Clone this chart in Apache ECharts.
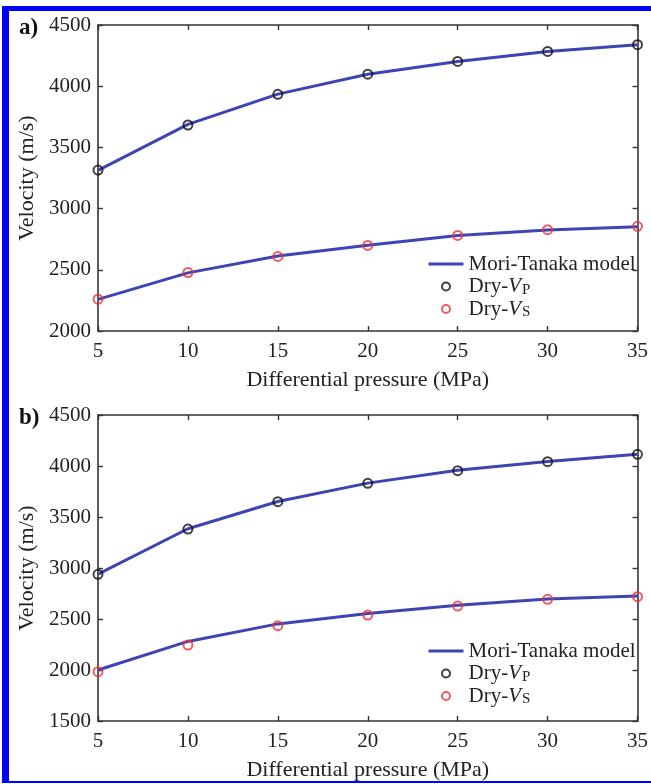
<!DOCTYPE html>
<html>
<head>
<meta charset="utf-8">
<script src="https://cdn.jsdelivr.net/npm/echarts@6/dist/echarts.min.js"></script>
<style>
  html, body { margin: 0; padding: 0; background: #fff; }
  #wrap { position: relative; width: 651px; height: 784px; }
  #main { position: absolute; left: 0; top: 0; width: 651px; height: 784px; }
  .edge { position: absolute; background: #0000ff; }
</style>
</head>
<body>
<div id="wrap">
  <div id="main"></div>
  <div class="edge" style="left:2px;top:6px;width:649px;height:5px"></div>
  <div class="edge" style="left:2px;top:6px;width:7px;height:777px"></div>
  <div class="edge" style="left:2px;top:781px;width:649px;height:2px"></div>
</div>
<script>
  // pressure steps (MPa)
  const pressure = [5, 10, 15, 20, 25, 30, 35];

  // panel a
  const aModelP = [3312, 3688, 3935, 4097, 4202, 4284, 4338];
  const aModelS = [2258, 2475, 2612, 2700, 2780, 2826, 2852];
  const aDryP = [3315, 3683, 3934, 4098, 4202, 4284, 4339];
  const aDryS = [2260, 2478, 2609, 2699, 2781, 2828, 2855];

  // panel b
  const bModelP = [2940, 3385, 3652, 3832, 3958, 4045, 4116];
  const bModelS = [2000, 2280, 2452, 2553, 2635, 2695, 2725];
  const bDryP = [2938, 3382, 3650, 3830, 3954, 4042, 4114];
  const bDryS = [1983, 2245, 2434, 2539, 2627, 2693, 2719];

  const yRangeA = [2000, 4500];
  const yRangeB = [1500, 4500];

  const FONT = 'Liberation Serif';
  const LINE = '#3d45b2';
  const AXIS = '#333';

  const pairs = (ys) => pressure.map((x, i) => [x, ys[i]]);

  const chart = echarts.init(document.getElementById('main'), null, { renderer: 'canvas' });

  function xAx(grid, top) {
    return {
      type: 'value', gridIndex: grid, min: 5, max: 35, interval: 5,
      position: top ? 'top' : 'bottom',
      name: top ? '' : 'Differential pressure (MPa)',
      nameLocation: 'middle', nameGap: 38,
      nameTextStyle: { fontFamily: FONT, fontSize: 22, color: '#222' },
      axisLine: { show: true, onZero: false, lineStyle: { color: AXIS, width: 1.6 } },
      axisTick: { show: true, inside: true, length: 5, lineStyle: { color: AXIS, width: 1.4 } },
      axisLabel: { show: !top, fontFamily: FONT, fontSize: 21, color: '#222', margin: 10 },
      splitLine: { show: false }
    };
  }

  function yAx(grid, range, right) {
    return {
      type: 'value', gridIndex: grid, min: range[0], max: range[1], interval: 500,
      position: right ? 'right' : 'left',
      name: right ? '' : 'Velocity (m/s)',
      nameLocation: 'middle', nameGap: 59,
      nameTextStyle: { fontFamily: FONT, fontSize: 22, color: '#222' },
      axisLine: { show: true, onZero: false, lineStyle: { color: AXIS, width: 1.6 } },
      axisTick: { show: true, inside: true, length: 5, lineStyle: { color: AXIS, width: 1.4 } },
      axisLabel: { show: !right, fontFamily: FONT, fontSize: 21, color: '#222', margin: 7, formatter: (v) => String(v) },
      splitLine: { show: false }
    };
  }

  function lineSeries(xi, data) {
    return {
      name: 'Mori-Tanaka model', type: 'line', xAxisIndex: xi, yAxisIndex: xi,
      data: pairs(data), symbol: 'none', z: 2,
      lineStyle: { color: LINE, width: 3 }, itemStyle: { color: LINE }
    };
  }

  function dots(xi, name, data, color) {
    return {
      name: name, type: 'scatter', xAxisIndex: xi, yAxisIndex: xi,
      data: pairs(data), symbol: 'circle', symbolSize: 9, z: 3,
      itemStyle: { color: 'rgba(0,0,0,0)', borderColor: color, borderWidth: 2 }
    };
  }

  const richText = {
    n: { fontFamily: FONT, fontSize: 21, color: '#222', lineHeight: 22 },
    i: { fontFamily: FONT, fontSize: 21, color: '#222', fontStyle: 'italic', lineHeight: 22 },
    s: { fontFamily: FONT, fontSize: 15, color: '#222', lineHeight: 13, verticalAlign: 'bottom', padding: [0, 0, 0, 1] }
  };

  function legendAt(top) {
    return {
      orient: 'vertical', left: 427, top: top, padding: 0,
      itemWidth: 35, itemHeight: 8, itemGap: 0.5,
      data: [
        { name: 'Mori-Tanaka model', itemStyle: { opacity: 0 }, lineStyle: { width: 3, color: LINE } },
        'Dry-VP',
        'Dry-VS'
      ],
      formatter: (name) => {
        if (name === 'Dry-VP') return '{n|Dry-}{i|V}{s|P}';
        if (name === 'Dry-VS') return '{n|Dry-}{i|V}{s|S}';
        return '{n|' + name + '}';
      },
      textStyle: { fontFamily: FONT, fontSize: 21, color: '#222', lineHeight: 22, rich: richText }
    };
  }

  const option = {
    animation: false,
    backgroundColor: '#fff',
    title: [
      { text: 'a)', left: 14, top: 12, textStyle: { fontFamily: FONT, fontSize: 23, fontWeight: 'bold', color: '#111' } },
      { text: 'b)', left: 14, top: 402, textStyle: { fontFamily: FONT, fontSize: 23, fontWeight: 'bold', color: '#111' } }
    ],
    grid: [
      { left: 98, right: 9, top: 25, height: 306 },
      { left: 98, right: 9, top: 415, height: 306 }
    ],
    legend: [legendAt(253), legendAt(640)],
    xAxis: [xAx(0, false), xAx(1, false), xAx(0, true), xAx(1, true)],
    yAxis: [yAx(0, yRangeA, false), yAx(1, yRangeB, false), yAx(0, yRangeA, true), yAx(1, yRangeB, true)],
    series: [
      lineSeries(0, aModelP),
      lineSeries(0, aModelS),
      dots(0, 'Dry-VP', aDryP, '#111'),
      dots(0, 'Dry-VS', aDryS, '#e8323c'),
      lineSeries(1, bModelP),
      lineSeries(1, bModelS),
      dots(1, 'Dry-VP', bDryP, '#111'),
      dots(1, 'Dry-VS', bDryS, '#e8323c')
    ]
  };

  chart.setOption(option);

  window.addEventListener('resize', () => chart.resize());
</script>
</body>
</html>
